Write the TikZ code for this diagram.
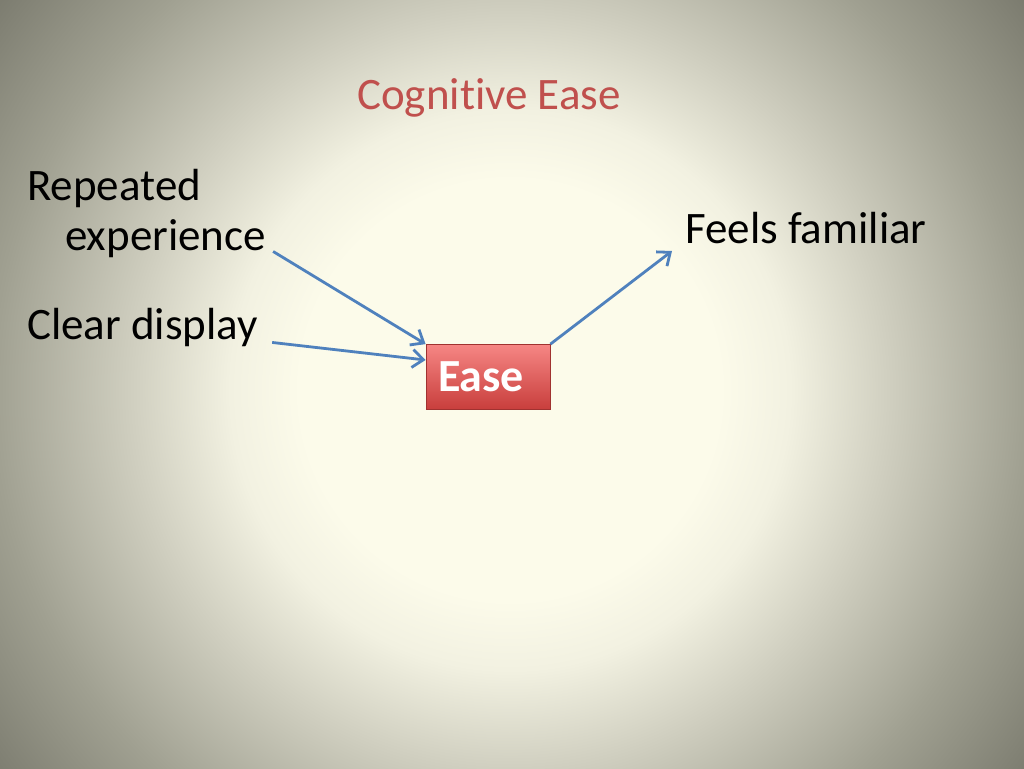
\documentclass[tikz,border=0pt]{standalone}
\usepackage{fontspec}
\setmainfont{Carlito}[Ligatures=NoCommon]
\usetikzlibrary{arrows.meta,positioning}

\definecolor{glowin}{RGB}{252,251,234}
\definecolor{glowa}{RGB}{242,241,225}
\definecolor{glowb}{RGB}{208,207,192}
\definecolor{glowc}{RGB}{160,160,145}
\definecolor{glowout}{RGB}{116,116,104}
\definecolor{titlered}{RGB}{192,80,77}
\definecolor{linkblue}{RGB}{79,129,189}
\definecolor{easetop}{RGB}{246,134,132}
\definecolor{easebot}{RGB}{200,62,60}

\pgfdeclareradialshading{glow}{\pgfpoint{0bp}{0bp}}{%
  color(0bp)=(glowin); color(7.5bp)=(glowin); color(10bp)=(glowa); color(13.5bp)=(glowb);
  color(18.5bp)=(glowc); color(24bp)=(glowout); color(50bp)=(glowout)}

\tikzset{
  label text/.style={font=\fontsize{45}{50}\selectfont, inner sep=0pt, anchor=west, align=left},
  easebox/.style={draw=easebot!80!black, line width=0.8pt, top color=easetop, bottom color=easebot,
    minimum width=124pt, minimum height=65pt, text=white, font=\fontsize{46}{52}\selectfont\bfseries,
    text width=100pt, align=left, inner sep=0pt},
  link/.style={->, draw=linkblue, line width=2.8pt, >={Straight Barb[length=11pt,width=18pt]}}
}

\begin{document}
\begin{tikzpicture}[x=1pt, y=-1pt]
% background
\useasboundingbox (0,0) rectangle (1024,768);
\begin{scope}
  \clip (0,0) rectangle (1024,768);
  \shade[shading=glow] (-190,-310) rectangle (1210,1090);
\end{scope}

\node[font=\fontsize{45}{52}\selectfont, text=titlered] (title) at (489,98) {Cognitive Ease};

\node[label text] (rep)   at (27,213) {Repeated\\\hspace*{38pt}experience};
\node[label text] (clear) at (27,327) {Clear display};
\node[label text] (feels) at (685,228) {Feels familiar};

\node[easebox] (ease) at (488,377) {Ease};

\draw[link] ([xshift=7pt,yshift=6pt]rep.south east) -- (ease.north west);
\draw[link] ([xshift=14pt,yshift=4pt]clear.south east) -- ([yshift=17pt]ease.west);
\draw[link] (ease.north east) -- ([xshift=-13pt,yshift=-7pt]feels.south west);
\end{tikzpicture}
\end{document}
